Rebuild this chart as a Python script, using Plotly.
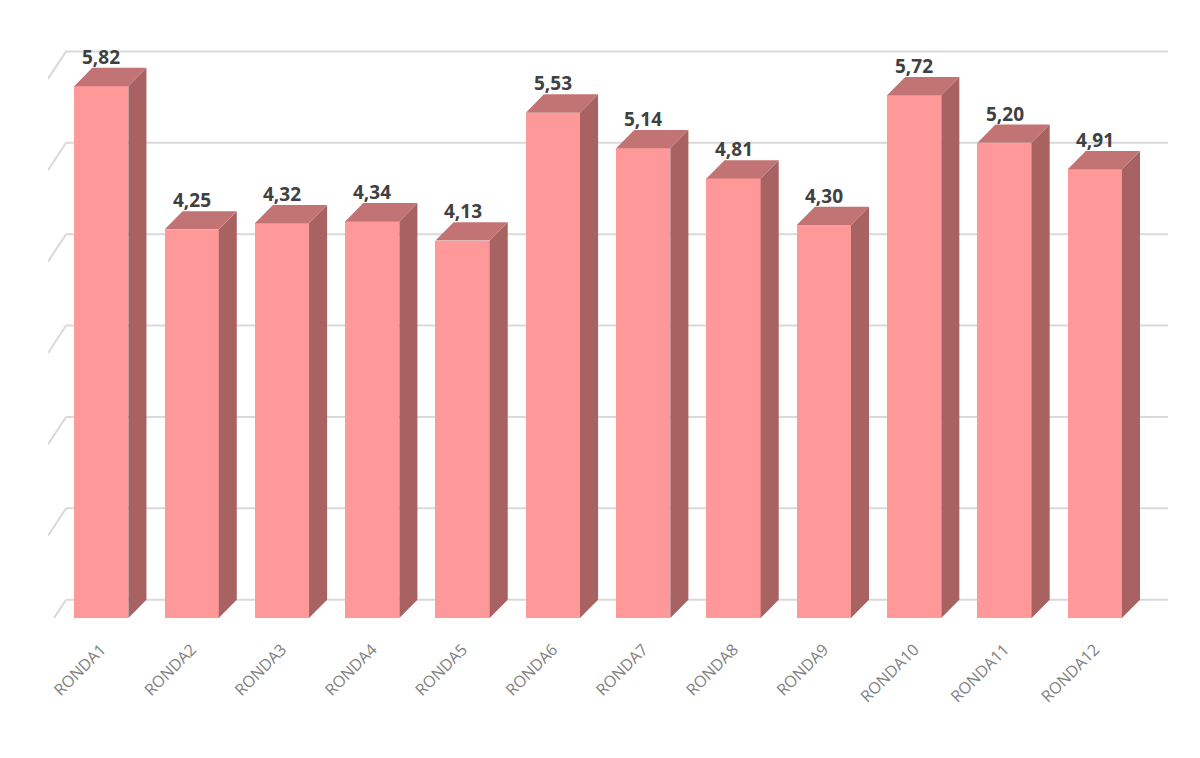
import plotly.graph_objects as go

categories = ["RONDA1","RONDA2","RONDA3","RONDA4","RONDA5","RONDA6","RONDA7","RONDA8","RONDA9","RONDA10","RONDA11","RONDA12"]
values = [5.82,4.25,4.32,4.34,4.13,5.53,5.14,4.81,4.30,5.72,5.20,4.91]
labels = ["5,82","4,25","4,32","4,34","4,13","5,53","5,14","4,81","4,30","5,72","5,20","4,91"]
grid_levels = [0,1,2,3,4,5,6]

w, dx, dy = 0.6, 0.2, 0.2
xs = list(range(len(values)))
fig = go.Figure()

for g in grid_levels:
    fig.add_shape(type="line", x0=-0.59 + dx, x1=11.81, y0=g + dy, y1=g + dy, layer="below",
                  line=dict(color="#D9D9D9", width=2))
    fig.add_shape(type="line", x0=-0.59, x1=-0.59 + dx, y0=g - 0.1, y1=g + dy, layer="below",
                  line=dict(color="#D9D9D9", width=2))

fig.add_trace(go.Bar(x=xs, y=values, width=w, marker=dict(color="#FF9999", line=dict(width=0)),
                     showlegend=False))

sx, sy, tx, ty = [], [], [], []
for i, v in zip(xs, values):
    r = i + w / 2
    sx += [r, r + dx, r + dx, r, r, None]
    sy += [0, dy, v + dy, v, 0, None]
    tx += [i - w / 2, r, r + dx, i - w / 2 + dx, i - w / 2, None]
    ty += [v, v, v + dy, v + dy, v, None]
fig.add_trace(go.Scatter(x=sx, y=sy, fill="toself", fillcolor="#A86262", mode="lines",
                         line=dict(width=0, color="#A86262"), hoverinfo="skip", showlegend=False))
fig.add_trace(go.Scatter(x=tx, y=ty, fill="toself", fillcolor="#C27474", mode="lines",
                         line=dict(width=0, color="#C27474"), hoverinfo="skip", showlegend=False))

for i, v, t in zip(xs, values, labels):
    fig.add_annotation(x=i, y=v + dy, text="<b>" + t + "</b>", showarrow=False,
                       yanchor="bottom", yshift=-4, font=dict(size=19, color="#404040", family="Open Sans"))

fig.update_layout(
    width=1200, height=758, plot_bgcolor="white", paper_bgcolor="white",
    margin=dict(l=40, r=40, t=16, b=148),
    xaxis=dict(range=[-0.59, 11.81], tickmode="array", tickvals=xs, ticktext=categories,
               tickangle=-45, showgrid=False, zeroline=False, showline=False, automargin=False,
               ticklabelstandoff=18,
               tickfont=dict(size=16, color="#7F7F7F", family="Open Sans")),
    yaxis=dict(range=[0, 6.5], showgrid=False, zeroline=False, showticklabels=False, automargin=False),
    bargap=0,
)
fig.write_html("out.html")
